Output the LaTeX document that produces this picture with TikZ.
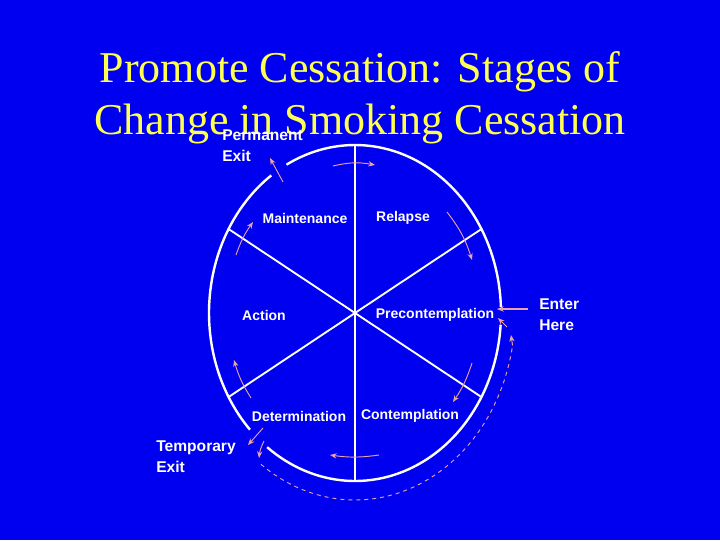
\documentclass[tikz,border=0pt]{standalone}
\usepackage{fontspec}
\setmainfont{Liberation Serif}
\newfontfamily\lab{Liberation Sans}
\definecolor{bg}{RGB}{0,0,240}
\definecolor{ttl}{RGB}{255,255,80}
\definecolor{arr}{RGB}{235,160,170}
\begin{document}
\begin{tikzpicture}[x=0.75pt,y=-0.75pt,
  ring/.style={white,line width=1.8pt},
  lbl/.style={text=white,font=\lab\bfseries\fontsize{10.5}{12}\selectfont,inner sep=0pt},
  side/.style={text=white,font=\lab\bfseries\fontsize{11.7}{15.8}\selectfont,inner sep=0pt,align=left,anchor=west},
  pa/.style={arr,line width=0.7pt,-{Stealth[length=5pt,width=4pt]}}]
\usetikzlibrary{arrows.meta}
\fill[bg] (0,0) rectangle (720,540);
\useasboundingbox (0,0) rectangle (720,540);
\node[text=ttl,font=\fontsize{33}{39}\selectfont,align=center] (title) at (360,98) {Promote Cessation: Stages of\\Change in Smoking Cessation};
\coordinate (c) at (355,313);
\foreach \a/\b in {2/118,125/224,233/356}
  \draw[ring] plot[domain=\a:\b,samples=60] ({355+146*cos(\x)},{313-168*sin(\x)});
\foreach \t in {30,90,150,210,270,330}
  \draw[ring,line width=1.4pt] (c) -- ({355+146*cos(\t)},{313-168*sin(\t)});
\node[lbl] (mai) at (305,218) {Maintenance};
\node[lbl] (rel) at (403,218) {Relapse};
\node[lbl] (act) at (264,315) {Action};
\node[lbl] (pre) at (435,315) {Precontemplation};
\node[lbl] (det) at (299,416) {Determination};
\node[lbl] (con) at (410,416) {Contemplation};
\node[side] (pe) at (222,146) {Permanent\\Exit};
\node[side] (eh) at (539,315) {Enter\\Here};
\node[side] (te) at (156,457) {Temporary\\Exit};
% arrows
\draw[pa] (333,166) to[bend left=12] (375,165);
\draw[pa] (283,182) -- (270,158);
\draw[pa] (236,255) to[bend left=8] (253,222);
\draw[pa] (447,212) to[bend left=10] (472,260);
\draw[pa,line width=1.3pt] (528,309) -- (497,309);
\draw[pa] (507,327) -- (498,318);
\draw[pa] (472,363) to[bend left=8] (453,402);
\draw[pa] (379,455) to[bend left=8] (330,455);
\draw[pa] (251,398) to[bend left=8] (234,360);
\draw[pa] (263,428) -- (248,445);
\draw[pa] (264,441) to[bend right=10] (259,458);
\draw[arr,line width=0.7pt,dashed] plot[domain=234:350,samples=60] ({355+160*cos(\x)},{313-187*sin(\x)});
\draw[pa] ({355+160*cos(350)},{313-187*sin(350)}) -- (511,335);
\end{tikzpicture}
\end{document}
